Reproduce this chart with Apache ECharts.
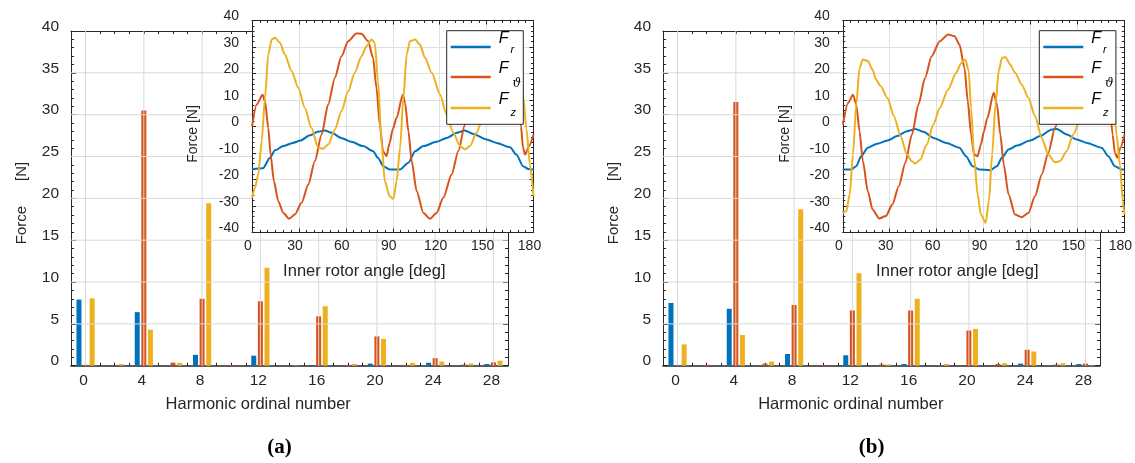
<!DOCTYPE html>
<html>
<head>
<meta charset="utf-8">
<script src="https://cdn.jsdelivr.net/npm/echarts@6/dist/echarts.min.js"></script>
<style>html,body{margin:0;padding:0;background:#fff}#c{width:1135px;height:463px}</style>
</head>
<body>
<div id="c"></div>
<script>
// ---------------- DATA ----------------
// harmonic ordinal numbers on the bar charts' category axis (-1 .. 29)
const harmonics = [-1,0,1,2,3,4,5,6,7,8,9,10,11,12,13,14,15,16,17,18,19,20,21,22,23,24,25,26,27,28,29];
const harmonicTicks = [0,4,8,12,16,20,24,28];
const forceGridTicks = [5,10,15,20,25,30,35];

// panel (a) spectra, one value per harmonic above
const frBarA  = [0,7.9,0,0,0,6.4,0,0.05,0,1.3,0,0,0,1.2,0,0,0,0.05,0,0,0,0.25,0,0,0,0.35,0,0,0,0.2,0];
const fthBarA = [0,0.1,0,0,0,30.5,0,0.35,0,8.0,0,0.1,0,7.7,0,0,0,5.9,0,0.1,0,3.5,0,0.1,0,0.9,0,0.15,0,0.4,0];
const fzBarA  = [0,8.05,0,0.2,0,4.3,0,0.35,0,19.4,0,0,0,11.7,0,0.05,0,7.1,0,0.2,0,3.2,0,0.35,0,0.5,0,0.25,0,0.6,0];
// panel (b) spectra
const frBarB  = [0,7.5,0,0,0,6.8,0,0,0,1.4,0,0,0,1.25,0,0,0,0.2,0,0,0,0,0,0,0,0.25,0,0,0,0.2,0];
const fthBarB = [0,0,0,0.1,0,31.5,0,0.25,0,7.26,0,0.1,0,6.6,0,0.15,0,6.6,0,0.05,0,4.2,0,0.2,0,1.9,0,0.15,0,0.25,0];
const fzBarB  = [0,2.55,0,0,0,3.67,0,0.5,0,18.7,0,0,0,11.05,0,0.15,0,8.0,0,0.2,0,4.4,0,0.3,0,1.7,0,0.3,0,0.05,0];

// inset waveforms: [inner rotor angle (deg), force (N)]
const frA = [[0,-16.2],[7,-15.8],[11.5,-11.8],[14.7,-9],[20,-7.4],[26,-6.2],[31,-5.3],[37,-3.3],[42,-2],[46.5,-1.5],[51,-2.4],[57,-4.3],[63.5,-5.8],[71,-7.4],[77.5,-9.3],[80.5,-11.8],[84,-15],[88,-16.2],[94.7,-16.2],[100,-13.7],[104.3,-9.3],[109.6,-7.4],[118,-5.8],[124.5,-4.3],[131,-2.4],[136,-1.5],[141.5,-2.8],[150,-4.9],[156.4,-6.2],[165,-7.8],[169,-10.6],[173.4,-15],[176.6,-16],[180,-16.2]];
const fthA = [[0,0],[3,8.3],[6.8,12],[8.3,9.6],[10.4,-0.5],[11.9,-10.6],[14,-20.6],[16.8,-28.2],[20,-32.6],[23.8,-34.8],[27.4,-33.2],[31.7,-28.8],[36,-21.9],[40.2,-13],[44.5,-3],[48.7,8.3],[53,18.4],[57.2,26.5],[61.5,32.2],[66.8,35.1],[70,35],[74.3,32.2],[77.4,25.9],[79.6,14.6],[81.7,0.75],[83.8,-9.3],[86,-11.2],[88,-6.2],[90,-1],[92.5,3.3],[96.4,12],[97.9,8.9],[100,-1.8],[102.1,-13],[105.3,-24.4],[109.6,-32.6],[113.8,-34.8],[118,-32.6],[122.3,-26.9],[127.7,-18],[131.9,-9.3],[136.2,0.75],[140,10],[144.5,19.5],[148.5,27],[152.5,32.5],[157.5,35],[161,34.5],[165,31],[168,24],[170.2,13],[172,0],[173.3,-8],[174.6,-10.6],[177,-7.5],[180,-3.1]];
const fzA = [[0,-26.9],[1.9,-23.1],[4,-18],[6.2,-5.5],[8.3,10.8],[10.4,27.2],[12.6,32.8],[14.7,33.5],[17.9,31.6],[21,27.2],[25.3,20.9],[29.6,14.6],[33.8,7],[38,-0.5],[42.3,-8],[45.5,-8.4],[48.7,-6.8],[53,-1.1],[57.2,5.8],[61.5,13.3],[65.7,20.3],[70,26.5],[73.2,30.3],[76.4,32.8],[78.5,31.6],[80.6,17],[82.8,-5.5],[84.9,-20.6],[88,-26.3],[90.4,-27.3],[92.5,-20.6],[94.7,-8],[96.8,10.8],[98.9,27.2],[101,32.2],[104.3,32.8],[107.4,30.9],[110.6,25.9],[114.9,20.3],[120.2,12.1],[124.5,4.5],[128.7,-2.4],[133,-7.4],[136.2,-8.7],[139.4,-7.4],[143.6,-2.4],[146.8,2],[151,9],[155,16],[159,22],[162.5,27],[165.5,31],[167.8,32.5],[169.8,31],[171.8,20],[173.5,11],[175.5,-1],[177.7,-14.3],[180,-26.3]];

const frB = [[0,-16.2],[5.5,-16.2],[8.6,-15],[11.7,-11.2],[16,-8],[22,-6.5],[28.5,-5.3],[34.8,-3.6],[41,-1.8],[46.3,-0.9],[51.6,-2],[57.9,-4.3],[66.2,-6.2],[74.6,-8],[78.8,-11.2],[83,-15],[87.2,-16.2],[94.3,-16.5],[98.5,-15],[101.7,-11.8],[106,-8.7],[111.3,-7.2],[119.8,-5.3],[126.2,-3.6],[133.6,-1.1],[136.8,-0.9],[143.2,-3],[149.6,-4.9],[156,-6.2],[165.5,-8],[169.8,-11.2],[174,-15],[178.3,-16.2],[180,-16.2]];
const fthB = [[0,0.75],[3.4,8.9],[6.5,12],[8.6,8.3],[10.7,-1.8],[12.8,-13],[16,-24.4],[19,-31.3],[23.3,-34.7],[27.5,-33.8],[31.7,-29.4],[35.8,-22.5],[40,-13.7],[44.2,-3],[48.4,8.3],[52.6,18.4],[56.8,26.5],[62,32.2],[67.3,34.7],[71.5,34.1],[74.6,30.9],[77.8,22.1],[79.9,9.6],[82,-3],[84,-10.6],[86.2,-11.2],[88.3,-6.8],[90.2,-2],[92.3,3],[96.5,12.7],[98.6,8.3],[100.7,-3],[102.9,-14.3],[106,-25.7],[110.1,-33.2],[114.4,-34.2],[118.7,-32.6],[122.9,-26.3],[127.2,-18.1],[131.4,-9.9],[135.7,-0.5],[140,9],[144,18.5],[148,26.5],[153,32],[158,34.7],[162,34],[165.5,30.5],[168.5,22],[170.5,9.6],[172.5,-3],[174,-10],[175.5,-11.8],[177.5,-8],[180,-3.1]];
const fzB = [[0,-32.6],[2.3,-32],[4.4,-25.7],[6.5,-10.6],[8.6,8.3],[10.7,22.1],[12.8,25.3],[16,24.7],[19,21.5],[21.2,17.7],[24.3,15.2],[28.5,10.8],[32.7,3.9],[36.9,-3.6],[41,-10.6],[44.2,-13.1],[46.3,-14],[49.5,-12.5],[53.7,-6.8],[57.9,0.75],[62,7],[67.3,14],[72.5,20.3],[75.7,24],[78.4,25.3],[80.5,20.9],[82,7],[84,-11.8],[86.2,-25.7],[88.3,-33.2],[91.3,-36.4],[93.4,-28.2],[95.5,-10.6],[97.6,8.3],[99.7,20.9],[101.8,25.9],[103.9,26.2],[107,23.4],[110.2,20.3],[114.4,15.8],[118.7,10.8],[122.9,3.9],[127.2,-4.3],[131.4,-10.6],[135.7,-13.5],[138.9,-13.1],[143.1,-9.3],[147.4,-3],[152,3],[157,10],[162,17],[166,23],[169,25],[171,22],[173,10],[175,-3],[177.2,-14.3],[179,-28],[180,-33.2]];

const seriesNames = ['Fr', 'Fϑ', 'Fz'];

// ---------------- STYLE ----------------
const FONT = '"Liberation Sans", Arial, Helvetica, sans-serif';
const AX = '#262626';
const GRIDC = '#d8d8d8';
const COLORS = ['#0072BD', '#D95319', '#EDB120'];
const Z_MAIN_AX = 3, Z_BARS = 4, Z_INSET_GRID = 5, Z_INSET_AX = 6, Z_LINES = 7;

const MAIN_W = 437, MAIN_H = 334.7, MAIN_TOP = 31;
const UNIT = MAIN_W / (harmonics.length - 1);
const mainLefts = [71, 663];

const grids = [
  {left: mainLefts[0], top: MAIN_TOP, width: MAIN_W, height: MAIN_H},
  {left: 252, top: 20.5, width: 281.5, height: 212, show: true, backgroundColor: '#fff', borderWidth: 0, z: Z_INSET_GRID},
  {left: mainLefts[1], top: MAIN_TOP, width: MAIN_W, height: MAIN_H},
  {left: 842.8, top: 20.5, width: 283.8, height: 212, show: true, backgroundColor: '#fff', borderWidth: 0, z: Z_INSET_GRID},
  // helper grids carrying the labelled harmonic ticks (0..28)
  {left: mainLefts[0] + UNIT, top: MAIN_TOP, width: UNIT * 28, height: MAIN_H},
  {left: mainLefts[1] + UNIT, top: MAIN_TOP, width: UNIT * 28, height: MAIN_H}
];

const xAxes = [], yAxes = [];
const shiftedLabel = (size, pad) => ({
  color: AX, fontFamily: FONT, fontSize: size,
  formatter: v => '{a|' + v + '}',
  rich: {a: {color: AX, fontFamily: FONT, fontSize: size, padding: pad}}
});

function addMain(gi) {
  const base = {type: 'category', gridIndex: gi, data: harmonics.map(String), boundaryGap: false, z: Z_MAIN_AX,
    axisTick: {show: true, inside: true, length: 3, interval: 0, lineStyle: {color: AX}},
    axisLabel: {show: false}, splitLine: {show: false}};
  xAxes.push(Object.assign({}, base, {position: 'bottom', axisLine: {onZero: false, lineStyle: {color: AX, width: 1.6}}}));
  xAxes.push(Object.assign({}, base, {position: 'top', axisLine: {onZero: false, lineStyle: {color: AX, width: 1}}}));
  const yb = {type: 'value', gridIndex: gi, min: 0, max: 40, interval: 5, z: Z_MAIN_AX,
    axisTick: {show: true, inside: true, length: 5, lineStyle: {color: AX}},
    minorTick: {show: true, splitNumber: 5, length: 3, lineStyle: {color: AX}},
    axisLine: {show: true, onZero: false, lineStyle: {color: AX, width: 1}}, splitLine: {show: false}};
  yAxes.push(Object.assign({}, yb, {position: 'left',
    axisLabel: Object.assign(shiftedLabel(15.5, [0, 0, 9, 0]), {margin: 12})}));
  yAxes.push(Object.assign({}, yb, {position: 'right', axisLabel: {show: false}}));
}

function addInset(gi) {
  const xb = {type: 'value', gridIndex: gi, min: 0, max: 180, interval: 30, z: Z_INSET_AX,
    axisTick: {show: true, inside: true, length: 4, lineStyle: {color: AX}},
    minorTick: {show: true, splitNumber: 6, length: 2.5, lineStyle: {color: AX}},
    axisLine: {show: true, onZero: false, lineStyle: {color: AX, width: 1}}};
  xAxes.push(Object.assign({}, xb, {position: 'bottom',
    axisLabel: Object.assign(shiftedLabel(14, [0, 8, 0, 0]), {margin: 7, showMinLabel: true, showMaxLabel: true}),
    splitLine: {show: true, lineStyle: {color: '#e0e0e0', width: 1}}}));
  xAxes.push(Object.assign({}, xb, {position: 'top', axisLabel: {show: false}, splitLine: {show: false}}));
  const yb = {type: 'value', gridIndex: gi, min: -40, max: 40, interval: 10, z: Z_INSET_AX,
    axisTick: {show: true, inside: true, length: 4, lineStyle: {color: AX}},
    minorTick: {show: true, splitNumber: 5, length: 2.5, lineStyle: {color: AX}},
    axisLine: {show: true, onZero: false, lineStyle: {color: AX, width: 1}}};
  yAxes.push(Object.assign({}, yb, {position: 'left',
    axisLabel: Object.assign(shiftedLabel(14, [0, 0, 8, 0]), {margin: 13, showMinLabel: true, showMaxLabel: true}),
    splitLine: {show: true, lineStyle: {color: '#e0e0e0', width: 1}}}));
  yAxes.push(Object.assign({}, yb, {position: 'right', axisLabel: {show: false}, splitLine: {show: false}}));
}

function addHelper(gi) {
  xAxes.push({type: 'value', gridIndex: gi, position: 'bottom',
    min: harmonicTicks[0], max: harmonicTicks[harmonicTicks.length - 1], interval: harmonicTicks[1] - harmonicTicks[0], z: Z_MAIN_AX,
    axisLine: {show: false, onZero: false}, axisTick: {show: false}, splitLine: {show: false},
    axisLabel: Object.assign(shiftedLabel(15.5, [0, 4, 0, 0]), {margin: 7, showMinLabel: true, showMaxLabel: true})});
  yAxes.push({type: 'value', gridIndex: gi, min: 0, max: 40, show: false});
}

addMain(0);   // x 0,1  y 0,1
addInset(1);  // x 2,3  y 2,3
addMain(2);   // x 4,5  y 4,5
addInset(3);  // x 6,7  y 6,7
addHelper(4); // x 8    y 8
addHelper(5); // x 9    y 9

const series = [];
// grid lines of the bar charts, placed through the chart's own axes at the tick values
function addGridLines(axisIdx) {
  const first = String(harmonics[0]), last = String(harmonics[harmonics.length - 1]);
  const vData = [], hData = [];
  harmonicTicks.forEach(h => { vData.push([String(h), 0], [String(h), 40], [String(h), '-']); });
  forceGridTicks.forEach(f => { hData.push([first, f], [last, f], [last, '-']); });
  [vData, hData].forEach(d => {
    series.push({type: 'line', name: 'grid', xAxisIndex: axisIdx, yAxisIndex: axisIdx, data: d,
      showSymbol: false, symbol: 'none', connectNulls: false, silent: true, z: Z_BARS, clip: false,
      lineStyle: {color: GRIDC, width: 1}, emphasis: {disabled: true}});
  });
}
function addBars(axisIdx, tag, arrs) {
  arrs.forEach((arr, k) => {
    series.push({type: 'bar', name: seriesNames[k] + ' ' + tag, xAxisIndex: axisIdx, yAxisIndex: axisIdx,
      data: arr, barWidth: 5, barGap: '32%', z: Z_BARS, itemStyle: {color: COLORS[k]}});
  });
}
function addLines(axisIdx, arrs) {
  arrs.forEach((arr, k) => {
    series.push({type: 'line', name: seriesNames[k], xAxisIndex: axisIdx, yAxisIndex: axisIdx,
      data: arr, showSymbol: false, symbol: 'none', smooth: 0.25, smoothMonotone: 'x', z: Z_LINES, clip: true,
      lineStyle: {color: COLORS[k], width: 2}, itemStyle: {color: COLORS[k]}});
  });
}
addGridLines(0);
addBars(0, '(a)', [frBarA, fthBarA, fzBarA]);
addLines(2, [frA, fthA, fzA]);
addGridLines(4);
addBars(4, '(b)', [frBarB, fthBarB, fzBarB]);
addLines(6, [frB, fthB, fzB]);

// ---------------- LEGENDS (one entry each, inside a drawn box) ----------------
const subKey = {'Fr': 'r', 'Fϑ': 't', 'Fz': 'z'};
const subTxt = {'Fr': 'r', 'Fϑ': 'ϑ', 'Fz': 'z'};
const legendRich = {
  f: {fontSize: 16, fontStyle: 'italic', fontFamily: FONT, color: '#000', padding: [0, 0, 16, 3]},
  r: {fontSize: 11, fontStyle: 'italic', fontFamily: FONT, color: '#000', padding: [6, 0, 0, 2]},
  t: {fontSize: 12, fontStyle: 'italic', fontFamily: '"DejaVu Serif", serif', color: '#000', padding: [14, 0, 0, 4]},
  z: {fontSize: 11, fontStyle: 'italic', fontFamily: FONT, color: '#000', padding: [9, 0, 0, 2]}
};
const legendRows = [47, 77, 108]; // icon centre rows
const legends = [];
function addLegends(boxLeft) {
  seriesNames.forEach((n, k) => {
    legends.push({
      data: [n], orient: 'vertical', left: boxLeft + 4, top: legendRows[k] - 16, z: 10,
      icon: 'rect', itemWidth: 40, itemHeight: 2.6, padding: 0, selectedMode: false,
      formatter: nm => '{f|F}{' + subKey[nm] + '|' + subTxt[nm] + '}',
      textStyle: {color: '#000', fontFamily: FONT, rich: legendRich}
    });
  });
}
const legendBoxes = [446.7, 1039.3];
addLegends(legendBoxes[0]);
addLegends(legendBoxes[1]);

function txt(x, y, s, size, opts) {
  opts = opts || {};
  return {type: 'text', x: x, y: y, rotation: opts.rot || 0, z: 20,
    style: {text: s, fill: opts.color || AX,
      font: (opts.weight || 'normal') + ' ' + size + 'px ' + (opts.family || FONT),
      align: 'center', verticalAlign: 'middle', textAlign: 'center', textVerticalAlign: 'middle'}};
}
function box(x) {
  return {type: 'rect', z: 9, shape: {x: x, y: 30.7, width: 76.6, height: 93.6},
    style: {fill: '#fff', stroke: AX, lineWidth: 1}};
}

const graphics = [
  box(legendBoxes[0]), box(legendBoxes[1]),
  txt(258.2, 404, 'Harmonic ordinal number', 16.5),
  txt(850.8, 404, 'Harmonic ordinal number', 16.5),
  txt(22, 203, 'Force      [N]', 15, {rot: Math.PI / 2}),
  txt(614, 203, 'Force      [N]', 15, {rot: Math.PI / 2}),
  txt(364.3, 271.7, 'Inner rotor angle [deg]', 16.5),
  txt(957.3, 271.7, 'Inner rotor angle [deg]', 16.5),
  txt(193, 134, 'Force [N]', 14, {rot: Math.PI / 2}),
  txt(785.5, 134, 'Force [N]', 14, {rot: Math.PI / 2}),
  txt(279.5, 448, '(a)', 21, {weight: 'bold', family: '"Liberation Serif", "DejaVu Serif", serif', color: '#000'}),
  txt(871.7, 448, '(b)', 21, {weight: 'bold', family: '"Liberation Serif", "DejaVu Serif", serif', color: '#000'})
];

const chart = echarts.init(document.getElementById('c'), null, {renderer: 'canvas', width: 1135, height: 463});
chart.setOption({
  animation: false,
  textStyle: {fontFamily: FONT},
  grid: grids,
  xAxis: xAxes,
  yAxis: yAxes,
  legend: legends,
  series: series,
  graphic: graphics
});
</script>
</body>
</html>
